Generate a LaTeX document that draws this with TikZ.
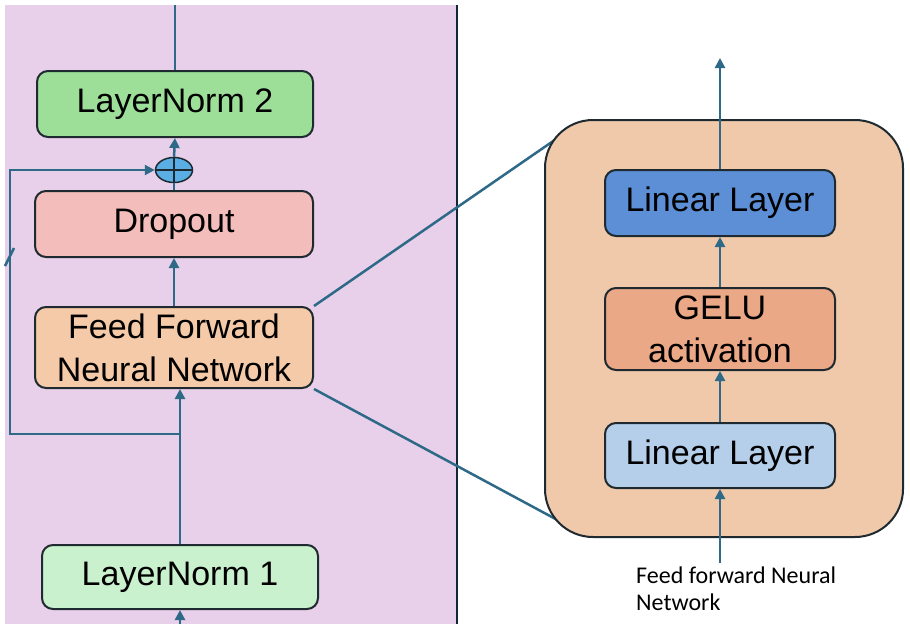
\documentclass[tikz,border=0pt]{standalone}
\usepackage{fontspec}
\setmainfont{Liberation Sans}
\newfontfamily\notefont{Carlito}
\usetikzlibrary{arrows.meta,shapes.geometric}

\definecolor{panel}{HTML}{E9D0EA}
\definecolor{normtwo}{HTML}{9DDF99}
\definecolor{normone}{HTML}{C9F1CD}
\definecolor{droppink}{HTML}{F2BDBA}
\definecolor{ffnpeach}{HTML}{F4CAA8}
\definecolor{addblue}{HTML}{5AAEE3}
\definecolor{flowblue}{HTML}{2E6A88}
\definecolor{boxline}{HTML}{1E2A30}
\definecolor{divider}{HTML}{14263A}
\definecolor{mlpfill}{HTML}{F0C9AB}
\definecolor{linblue}{HTML}{5C8FD6}
\definecolor{geluorange}{HTML}{EAA886}
\definecolor{linlight}{HTML}{B5CEEA}

\begin{document}
\begin{tikzpicture}[x=1pt,y=-1pt,
    block/.style={draw=boxline, line width=2pt, rounded corners=11pt, inner sep=0pt,
      align=center, font=\fontsize{34}{43}\selectfont},
    flow/.style={flowblue, line width=2.5pt},
    >={Triangle[width=10pt,length=10pt]}]

  \useasboundingbox (0,0) rectangle (910,624);
  \fill[white] (0,0) rectangle (910,624);
  \fill[panel] (5,5) rectangle (457,624);
  \draw[divider, line width=2pt] (457,5) -- (457,624);

  % left column
  \node[block, fill=normtwo, minimum width=276, minimum height=66] (ln2) at (175,104) {LayerNorm 2};
  \node[draw=boxline, line width=1.5pt, ellipse, fill=addblue, minimum width=37, minimum height=25, inner sep=0pt] (add) at (174,170) {};
  \node[block, fill=droppink, minimum width=278, minimum height=66] (drop) at (174,224) {Dropout};
  \node[block, fill=ffnpeach, minimum width=278, minimum height=81] (ffn) at (174,347.5) {Feed Forward\\Neural Network};
  \node[block, fill=normone, minimum width=276, minimum height=64] (ln1) at (180,577) {LayerNorm 1};

  \coordinate (outtop) at (175,5);
  \coordinate (inbot) at (180,624);
  \coordinate (split) at (180,434);
  \coordinate (skip) at (10,170);
  \coordinate (cuta) at (5,266);
  \coordinate (cutb) at (14,248);

  \draw[flow] (ln2.north) -- (outtop);
  \draw[flow,->] (inbot) -- (ln1.south);
  \draw[flow,->] (ln1.north) -- (ln1.north |- ffn.south);
  \draw[flow,->] (ffn.north) -- (drop.south);
  \draw[flow] (drop.north) -- (add.south);
  \draw[flow,->] (add.north) -- (ln2.south);
  \draw[boxline, line width=1.5pt] (add.west) -- (add.east) (add.north) -- (add.south);
  \draw[flow,->] (split) -| (skip) -- (add.west);
  \draw[flow] (cuta) -- (cutb);

  % zoom into the feed forward block
  \coordinate (zoomtop) at (575,126);
  \coordinate (zoombot) at (576,530);
  \draw[flow] (ffn.north east) -- (zoomtop);
  \draw[flow] (ffn.south east) -- (zoombot);

  \node[draw=boxline, line width=2pt, fill=mlpfill, rounded corners=48pt, minimum width=358, minimum height=417, inner sep=0pt] (mlp) at (724,328.5) {};
  \node[block, fill=linblue, minimum width=230, minimum height=66] (lin2) at (720,203) {Linear Layer};
  \node[block, fill=geluorange, minimum width=230, minimum height=82] (gelu) at (720,329) {GELU\\activation};
  \node[block, fill=linlight, minimum width=230, minimum height=65] (lin1) at (720,455.5) {Linear Layer};
  \node[anchor=north west, inner sep=0pt, align=left, font=\notefont\fontsize{24}{27}\selectfont] (fflabel) at (636,567) {Feed forward Neural\\Network};

  \coordinate (mlpin) at (720,563);
  \coordinate (mlpout) at (720,58);

  \draw[flow,->] (mlpin) -- (lin1.south);
  \draw[flow,->] (lin1.north) -- (gelu.south);
  \draw[flow,->] (gelu.north) -- (lin2.south);
  \draw[flow,->] (lin2.north) -- (mlpout);
\end{tikzpicture}
\end{document}
